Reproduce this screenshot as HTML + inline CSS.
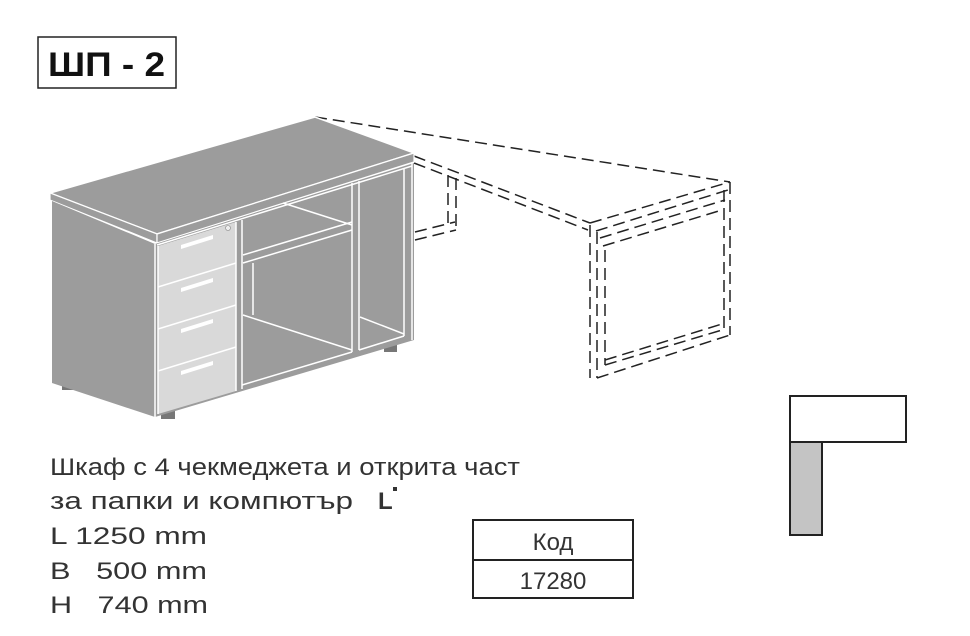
<!DOCTYPE html>
<html><head><meta charset="utf-8"><style>
html,body{margin:0;padding:0;background:#fff;width:970px;height:636px;overflow:hidden}
svg{display:block}
text{font-family:"Liberation Sans","DejaVu Sans",sans-serif}
</style></head><body>
<svg width="970" height="636" viewBox="0 0 970 636" xmlns="http://www.w3.org/2000/svg">
<rect x="38" y="37" width="138" height="51" fill="#fff" stroke="#222" stroke-width="1.5"/>
<text x="48" y="76" font-size="34" font-weight="bold" fill="#111" textLength="117" lengthAdjust="spacingAndGlyphs">ШП - 2</text>

<g fill="none" stroke="#222" stroke-width="1.5" stroke-dasharray="12 6">
<line x1="315" y1="117" x2="730" y2="182"/>
<line x1="414" y1="156" x2="590" y2="223"/>
<line x1="414" y1="163" x2="588" y2="230"/>
<line x1="590" y1="223" x2="730" y2="182"/>
<line x1="596" y1="231" x2="728" y2="190"/>
<line x1="600" y1="238" x2="725" y2="200"/>
<line x1="603" y1="246" x2="722" y2="210"/>
<line x1="730" y1="182" x2="730" y2="335"/>
<line x1="724" y1="190" x2="724" y2="330"/>
<line x1="590" y1="225" x2="590" y2="378"/>
<line x1="597" y1="232" x2="597" y2="378"/>
<line x1="605" y1="250" x2="605" y2="365"/>
<line x1="597" y1="378" x2="730" y2="335"/>
<line x1="605" y1="365" x2="722" y2="330"/>
<line x1="605" y1="360" x2="722" y2="324"/>
<line x1="448" y1="175" x2="448" y2="228"/>
<line x1="456" y1="178" x2="456" y2="230"/>
<line x1="415" y1="232" x2="455" y2="222"/>
<line x1="415" y1="240" x2="456" y2="230"/>
</g>

<polygon points="50,193 315,117 414,153 157,234" fill="#9c9c9c" stroke="#fff" stroke-width="1.5"/>
<polygon points="50,193 157,234 157,243 50,200" fill="#9c9c9c" stroke="#fff" stroke-width="1.2"/>
<polygon points="157,234 414,153 414,162 157,243" fill="#9c9c9c" stroke="#fff" stroke-width="1.2"/>
<rect x="62" y="378" width="12" height="12" fill="#777"/>
<rect x="161" y="406" width="14" height="13" fill="#777"/>
<rect x="384" y="340" width="13" height="12" fill="#777"/>
<polygon points="52,201 155,244 155,417 52,383" fill="#9c9c9c"/>
<polygon points="155,244 414,163 414,340 155,417" fill="#9c9c9c"/>
<polygon points="158,246 236,222 236,391 158,414" fill="#d9d9d9"/>
<g stroke="#fff" stroke-width="1.5" fill="none">
<line x1="155" y1="244" x2="155" y2="417"/>
<line x1="158" y1="246" x2="158" y2="414"/>
<line x1="236" y1="222" x2="236" y2="391"/>
<line x1="242" y1="220" x2="242" y2="389"/>
<line x1="158" y1="287" x2="236" y2="263"/>
<line x1="158" y1="329" x2="236" y2="305"/>
<line x1="158" y1="371" x2="236" y2="347"/>
<line x1="157" y1="245" x2="412" y2="166"/>
<line x1="412" y1="163" x2="412" y2="340"/>
<line x1="404" y1="168" x2="404" y2="336"/>
<line x1="352" y1="183" x2="352" y2="352"/>
<line x1="359" y1="181" x2="359" y2="350"/>
<line x1="243" y1="255" x2="352" y2="222"/>
<line x1="243" y1="263" x2="352" y2="230"/>
<line x1="283" y1="203" x2="352" y2="225"/>
<line x1="253" y1="263" x2="253" y2="315"/>
<line x1="243" y1="315" x2="352" y2="350"/>
<line x1="242" y1="385" x2="352" y2="352"/>
<line x1="360" y1="317" x2="404" y2="334"/>
<line x1="359" y1="350" x2="404" y2="336"/>
</g>
<g fill="#fff">
<polygon points="181,245 213,235 213,239 181,249"/>
<polygon points="181,288 213,278 213,282 181,292"/>
<polygon points="181,329 213,319 213,323 181,333"/>
<polygon points="181,371 213,361 213,365 181,375"/>
</g>
<circle cx="228" cy="228" r="2.5" fill="#eee" stroke="#888" stroke-width="0.6"/>

<g fill="#333" font-size="24">
<text x="50" y="475" textLength="470" lengthAdjust="spacingAndGlyphs">Шкаф с 4 чекмеджета и открита част</text>
<text x="50" y="509" textLength="303" lengthAdjust="spacingAndGlyphs">за папки и компютър</text>
<text x="378" y="509" font-weight="bold" font-size="24">L</text>
<rect x="393" y="487" width="4" height="4"/>
<text x="50" y="544" textLength="157" lengthAdjust="spacingAndGlyphs">L 1250 mm</text>
<text x="50" y="579" xml:space="preserve" textLength="157" lengthAdjust="spacingAndGlyphs">B   500 mm</text>
<text x="50" y="613" xml:space="preserve" textLength="158" lengthAdjust="spacingAndGlyphs">H   740 mm</text>
</g>

<rect x="473" y="520" width="160" height="78" fill="#fff" stroke="#222" stroke-width="2"/>
<line x1="473" y1="560" x2="633" y2="560" stroke="#222" stroke-width="2"/>
<text x="553" y="550" font-size="24" text-anchor="middle" fill="#333">Код</text>
<text x="553" y="589" font-size="24" text-anchor="middle" fill="#333">17280</text>

<rect x="790" y="396" width="116" height="46" fill="#fff" stroke="#222" stroke-width="2"/>
<rect x="790" y="442" width="32" height="93" fill="#c4c4c4" stroke="#222" stroke-width="2"/>
</svg>
</body></html>
